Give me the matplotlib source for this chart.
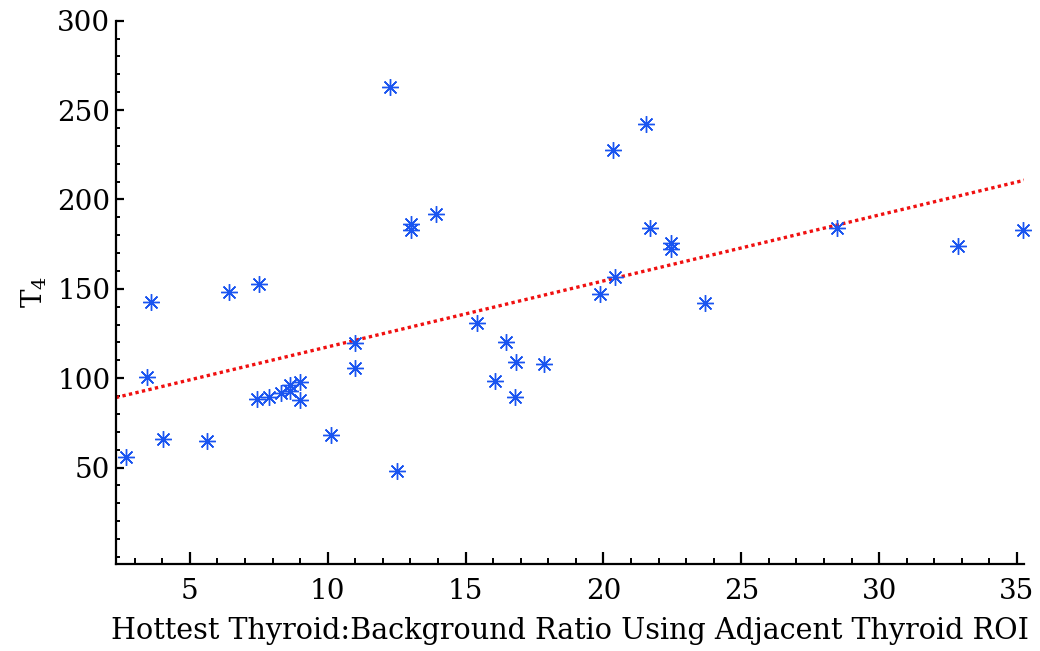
import matplotlib
matplotlib.use("Agg")
import matplotlib.pyplot as plt
from matplotlib.ticker import MultipleLocator

# Data
ratio = [2.68, 3.44, 3.59, 4.02, 5.62, 6.41, 7.50, 7.42, 7.87, 8.32, 8.65, 8.65,
         9.01, 8.99, 10.11, 11.00, 11.00, 12.25, 12.51, 13.01, 13.01, 13.91,
         15.43, 16.05, 16.46, 16.83, 16.80, 17.86, 19.86, 20.43, 20.36, 21.56,
         21.70, 22.46, 22.46, 23.70, 28.48, 32.86, 35.22]
t4 = [56.0, 100.7, 142.7, 66.0, 65.0, 148.3, 152.7, 88.4, 89.2, 91.8, 96.0, 92.7,
      97.9, 87.8, 68.1, 119.9, 105.9, 262.9, 47.8, 186.3, 183.0, 191.9,
      130.9, 98.5, 120.1, 108.9, 89.2, 107.8, 147.0, 156.5, 227.6, 242.2,
      184.0, 175.6, 172.3, 142.1, 184.0, 174.0, 183.0]
fit_intercept = 80.6
fit_slope = 3.69
fit_x = [2.32, 35.3]

xlabel = "Hottest Thyroid:Background Ratio Using Adjacent Thyroid ROI"
ylabel = r"T$_4$"
xticks = [5, 10, 15, 20, 25, 30, 35]
yticks = [50, 100, 150, 200, 250, 300]

plt.rcParams['font.family'] = ['DejaVu Serif']
plt.rcParams['mathtext.fontset'] = 'dejavuserif'

fig = plt.figure(figsize=(10.4, 6.51), dpi=100)
ax = fig.add_axes([0.1115, 0.1336, 0.873, 0.8346])

fy = [fit_intercept + fit_slope * v for v in fit_x]
ax.plot(fit_x, fy, color='#f01010', linestyle=(0, (1, 1)), linewidth=2.4, zorder=2)
ax.plot(ratio, t4, linestyle='none', marker=(8, 2, 0), markersize=12,
        markeredgewidth=1.0, color='#1a55f0', zorder=3, clip_on=False)

ax.set_xlim(2.32, 35.25)
ax.set_ylim(-4, 300)
ax.set_xticks(xticks)
ax.set_yticks(yticks)
ax.xaxis.set_minor_locator(MultipleLocator(1))
ax.yaxis.set_minor_locator(MultipleLocator(10))

for s in ['top', 'right']:
    ax.spines[s].set_visible(False)
for s in ['left', 'bottom']:
    ax.spines[s].set_linewidth(1.6)

ax.tick_params(axis='x', which='major', direction='in', length=9, width=1.6,
               labelsize=20, pad=10)
ax.tick_params(axis='x', which='minor', direction='in', length=4.5, width=1.4)
ax.tick_params(axis='y', which='major', direction='in', length=6, width=1.6,
               labelsize=20, pad=4)
ax.tick_params(axis='y', which='minor', direction='in', length=3, width=1.4)

ax.set_xlabel(xlabel, fontsize=20.6, labelpad=9)
ax.set_ylabel(ylabel, fontsize=20, labelpad=6)

fig.savefig("out.png", dpi=100)
